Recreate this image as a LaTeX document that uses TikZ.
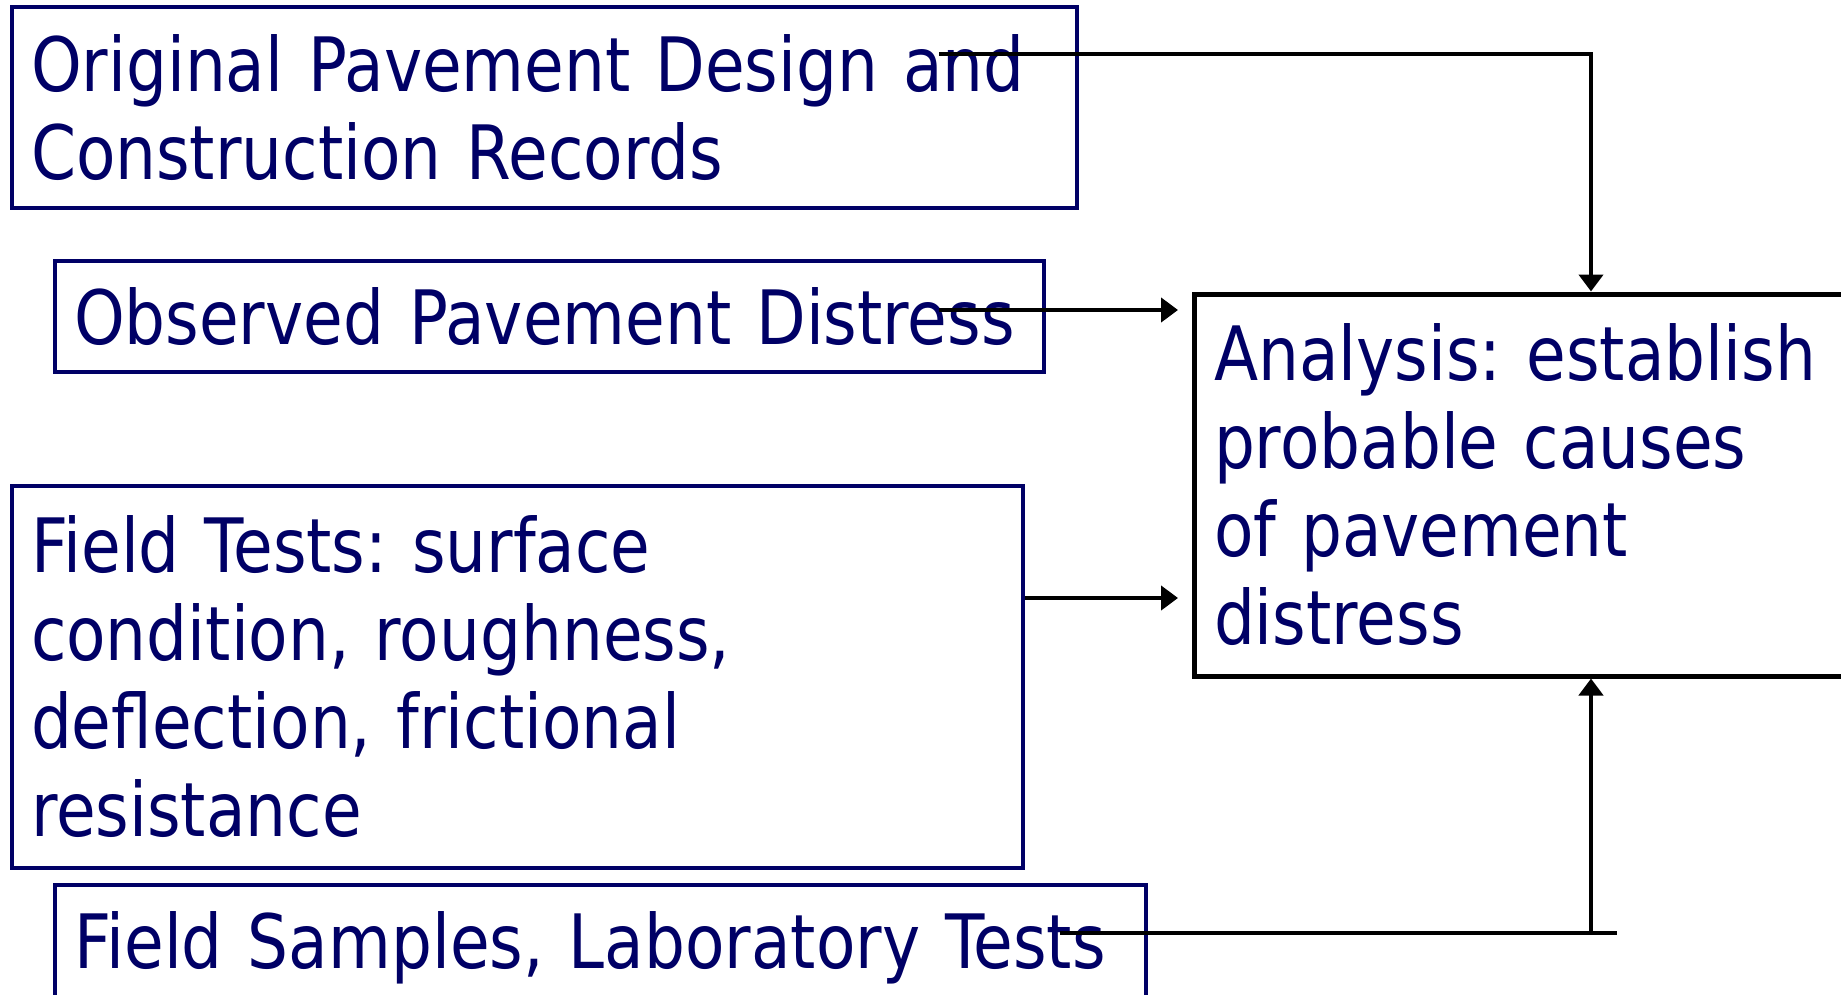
\documentclass[tikz,border=0pt]{standalone}
\usepackage{fontspec}
\setmainfont{DejaVu Sans}[FakeStretch=0.86]
\usetikzlibrary{arrows.meta}
\definecolor{navy}{RGB}{0,0,102}
\frenchspacing
\begin{document}
\frenchspacing
\begin{tikzpicture}[x=1pt,y=-1pt,
  box/.style={draw=navy, line width=4.5pt, text=navy, align=left, inner xsep=19pt, inner ysep=0pt, font=\fontsize{75}{88}\selectfont},
  abox/.style={box, draw=black, line width=5pt, inner xsep=20pt},
  conn/.style={line width=4.5pt, black},
  arr/.style={conn, -{Triangle[length=17pt,width=24pt]}}]
\useasboundingbox (0,0) rectangle (1841,995);
\clip (0,0) rectangle (1841,995);
\fill[white] (0,0) rectangle (1841,995);

\node[box, minimum width=1065pt, minimum height=201pt, text width=1027pt] (orig) at (544.5,107.5) {Original Pavement Design and\\Construction Records};
\node[box, minimum width=989pt, minimum height=111pt, text width=951pt] (obs) at (549.5,316.5) {Observed Pavement Distress};
\node[box, minimum width=1011pt, minimum height=382pt, text width=973pt] (field) at (517.5,677) {Field Tests: surface\\condition, roughness,\\deflection, frictional\\resistance};
\node[box, minimum width=1091pt, minimum height=126pt, text width=1053pt] (samp) at (600.5,948) {Field Samples, Laboratory Tests};
\node[abox, minimum width=676pt, minimum height=382pt, text width=636pt] (analysis) at (1532,485) {Analysis: establish\\probable causes\\of pavement\\distress};

\coordinate (s1) at (939,54);
\coordinate (k1) at (1591,54);
\coordinate (s2) at (939,310);
\coordinate (e2) at (1178,310);
\coordinate (e3) at (1178,598);
\coordinate (s4) at (1060,933);
\coordinate (e4) at (1617,933);
\coordinate (j4) at (1591,933);

\draw[arr] (s1) -- (k1) -- (k1 |- analysis.north);
\draw[arr] (s2) -- (e2);
\draw[arr] (field.east |- e3) -- (e3);
\draw[conn] (s4) -- (e4);
\draw[arr] (j4) -- (j4 |- analysis.south);
\end{tikzpicture}
\end{document}
